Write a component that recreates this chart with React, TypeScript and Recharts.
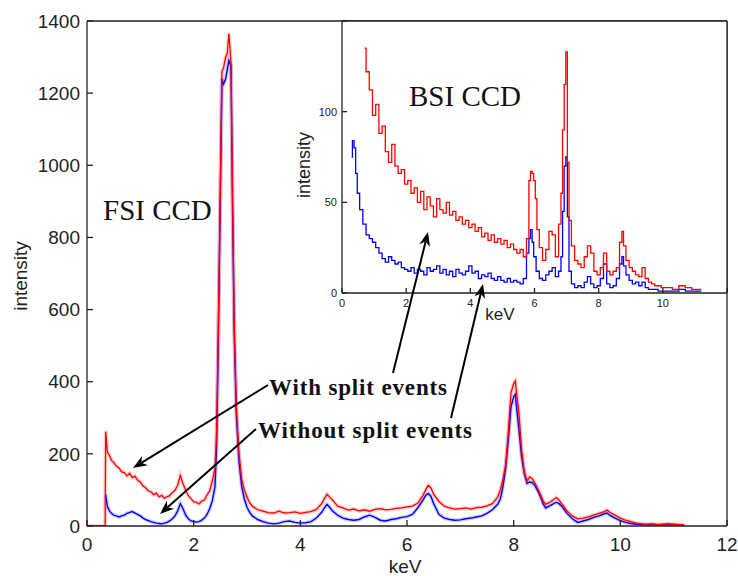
import { CartesianGrid, Line, LineChart, XAxis, YAxis } from "recharts";

// FSI CCD spectrum (main plot), [keV, intensity]
const fsiRed: [number, number][] = [
  [0, 0], [0.34, 0], [0.35, 262], [0.38, 205], [0.42, 196], [0.46, 182], [0.5, 176], [0.55, 166],
  [0.6, 161], [0.65, 150], [0.7, 148], [0.75, 139], [0.8, 146], [0.85, 134], [0.9, 138], [0.95, 127],
  [1.0, 122], [1.05, 111], [1.1, 106], [1.15, 97], [1.2, 95], [1.25, 87], [1.3, 91], [1.35, 81],
  [1.4, 85], [1.45, 77], [1.5, 81], [1.55, 84], [1.6, 93], [1.65, 99], [1.7, 113], [1.75, 140],
  [1.8, 117], [1.85, 99], [1.9, 84], [1.95, 76], [2.0, 67], [2.05, 66], [2.1, 61], [2.15, 69],
  [2.2, 72], [2.25, 86], [2.3, 97], [2.35, 126], [2.4, 160], [2.43, 260], [2.46, 520], [2.5, 930],
  [2.53, 1260], [2.56, 1270], [2.6, 1300], [2.63, 1310], [2.66, 1365], [2.7, 1285], [2.73, 900],
  [2.76, 560], [2.8, 330], [2.85, 200], [2.9, 130], [2.95, 100], [3.0, 80], [3.05, 64], [3.1, 55],
  [3.2, 45], [3.3, 41], [3.4, 37], [3.5, 36], [3.6, 41], [3.7, 36], [3.8, 37], [3.9, 39], [4.0, 35],
  [4.1, 38], [4.2, 40], [4.3, 46], [4.4, 62], [4.45, 76], [4.5, 88], [4.55, 80], [4.6, 73], [4.7, 55],
  [4.8, 50], [4.9, 44], [5.0, 47], [5.1, 42], [5.2, 45], [5.3, 41], [5.4, 46], [5.5, 48], [5.6, 45],
  [5.7, 46], [5.8, 49], [5.9, 50], [6.0, 53], [6.1, 55], [6.2, 63], [6.3, 85], [6.35, 100], [6.4, 113],
  [6.45, 105], [6.5, 88], [6.6, 68], [6.7, 55], [6.8, 50], [6.9, 47], [7.0, 48], [7.1, 50], [7.2, 47],
  [7.3, 51], [7.4, 52], [7.5, 56], [7.6, 62], [7.7, 80], [7.75, 100], [7.8, 130], [7.85, 170],
  [7.9, 260], [7.95, 370], [8.0, 395], [8.03, 402], [8.06, 360], [8.1, 310], [8.15, 210], [8.2, 150],
  [8.25, 125], [8.3, 136], [8.35, 131], [8.4, 118], [8.45, 104], [8.5, 88], [8.55, 70], [8.6, 60],
  [8.7, 68], [8.8, 79], [8.85, 72], [8.9, 62], [8.95, 52], [9.0, 42], [9.1, 28], [9.2, 20], [9.3, 22],
  [9.4, 25], [9.5, 30], [9.6, 35], [9.7, 40], [9.75, 44], [9.8, 38], [9.9, 30], [10.0, 22], [10.1, 16],
  [10.2, 12], [10.3, 8], [10.4, 6], [10.5, 5], [10.6, 6], [10.7, 4], [10.8, 5], [10.9, 6], [11.0, 5],
  [11.1, 4], [11.2, 3],
];

const fsiBlue: [number, number][] = [
  [0.35, 88], [0.38, 55], [0.42, 42], [0.46, 35], [0.5, 30], [0.55, 28], [0.6, 25], [0.65, 28],
  [0.7, 30], [0.75, 35], [0.8, 38], [0.85, 40], [0.9, 36], [0.95, 32], [1.0, 28], [1.05, 22],
  [1.1, 18], [1.15, 15], [1.2, 12], [1.25, 10], [1.3, 8], [1.35, 7], [1.4, 6], [1.45, 8], [1.5, 10],
  [1.55, 14], [1.6, 20], [1.65, 28], [1.7, 42], [1.75, 62], [1.8, 48], [1.85, 30], [1.9, 20],
  [1.95, 14], [2.0, 12], [2.05, 11], [2.1, 12], [2.15, 16], [2.2, 22], [2.25, 32], [2.3, 48],
  [2.35, 70], [2.4, 110], [2.43, 220], [2.46, 500], [2.5, 920], [2.53, 1240], [2.56, 1225],
  [2.6, 1240], [2.63, 1265], [2.66, 1290], [2.7, 1275], [2.73, 880], [2.76, 540], [2.8, 310],
  [2.85, 180], [2.9, 110], [2.95, 75], [3.0, 52], [3.05, 38], [3.1, 28], [3.2, 18], [3.3, 12],
  [3.4, 8], [3.5, 6], [3.6, 8], [3.7, 12], [3.8, 14], [3.9, 10], [4.0, 8], [4.1, 9], [4.2, 12],
  [4.3, 22], [4.4, 38], [4.45, 50], [4.5, 60], [4.55, 52], [4.6, 42], [4.7, 30], [4.8, 22], [4.9, 18],
  [5.0, 16], [5.1, 18], [5.2, 25], [5.3, 30], [5.4, 24], [5.5, 16], [5.6, 14], [5.7, 18], [5.8, 20],
  [5.9, 24], [6.0, 26], [6.1, 32], [6.2, 50], [6.3, 72], [6.35, 85], [6.4, 90], [6.45, 82], [6.5, 62],
  [6.6, 32], [6.7, 22], [6.8, 18], [6.9, 16], [7.0, 17], [7.1, 20], [7.2, 22], [7.3, 25], [7.4, 28],
  [7.5, 35], [7.6, 45], [7.7, 60], [7.75, 75], [7.8, 110], [7.85, 160], [7.9, 240], [7.95, 330],
  [8.0, 358], [8.03, 365], [8.06, 320], [8.1, 265], [8.15, 190], [8.2, 145], [8.25, 118], [8.3, 122],
  [8.35, 120], [8.4, 112], [8.45, 98], [8.5, 82], [8.55, 62], [8.6, 50], [8.7, 58], [8.8, 66],
  [8.85, 62], [8.9, 55], [8.95, 45], [9.0, 35], [9.1, 20], [9.2, 10], [9.3, 14], [9.4, 18], [9.5, 24],
  [9.6, 28], [9.7, 34], [9.75, 36], [9.8, 30], [9.9, 22], [10.0, 15], [10.1, 10], [10.2, 7], [10.3, 5],
  [10.4, 4], [10.5, 3], [10.6, 4], [10.7, 3], [10.8, 3], [10.9, 4], [11.0, 3], [11.1, 2], [11.2, 2],
];

// BSI CCD spectrum (inset)
const bsiRed: [number, number][] = [
  [0.7, 135], [0.8, 122], [0.9, 112], [1.0, 98], [1.1, 104], [1.2, 88], [1.3, 92], [1.4, 78],
  [1.5, 72], [1.6, 82], [1.7, 70], [1.8, 66], [1.9, 68], [2.0, 60], [2.1, 62], [2.2, 55], [2.3, 58],
  [2.4, 50], [2.5, 56], [2.6, 46], [2.7, 53], [2.8, 48], [2.9, 42], [3.0, 52], [3.1, 46], [3.2, 44],
  [3.3, 50], [3.4, 43], [3.5, 45], [3.6, 40], [3.7, 42], [3.8, 38], [3.9, 40], [4.0, 36], [4.1, 38],
  [4.2, 34], [4.3, 36], [4.4, 31], [4.5, 33], [4.6, 29], [4.7, 32], [4.8, 28], [4.9, 30], [5.0, 27],
  [5.1, 29], [5.2, 25], [5.3, 27], [5.4, 24], [5.5, 22], [5.6, 24], [5.7, 20], [5.8, 30], [5.85, 62],
  [5.9, 67], [5.95, 66], [6.0, 62], [6.05, 52], [6.1, 35], [6.2, 25], [6.3, 18], [6.4, 24], [6.5, 34],
  [6.6, 32], [6.7, 20], [6.8, 38], [6.85, 55], [6.9, 90], [6.95, 115], [7.0, 133], [7.05, 72],
  [7.1, 40], [7.2, 26], [7.3, 18], [7.4, 16], [7.5, 14], [7.6, 20], [7.7, 26], [7.8, 22], [7.9, 12],
  [8.0, 10], [8.1, 14], [8.2, 22], [8.3, 12], [8.4, 10], [8.5, 12], [8.6, 14], [8.7, 28], [8.75, 34],
  [8.8, 26], [8.9, 18], [9.0, 14], [9.1, 12], [9.2, 10], [9.3, 9], [9.4, 14], [9.5, 8], [9.6, 6],
  [9.7, 5], [9.8, 4], [9.9, 4], [10.0, 3], [10.2, 3], [10.4, 2], [10.6, 4], [10.8, 3], [11.0, 2],
  [11.2, 2],
];

const bsiBlue: [number, number][] = [
  [0.3, 75], [0.35, 84], [0.4, 80], [0.45, 66], [0.5, 55], [0.6, 46], [0.7, 38], [0.8, 32], [0.9, 30],
  [1.0, 28], [1.1, 25], [1.2, 22], [1.3, 19], [1.4, 17], [1.5, 20], [1.6, 18], [1.7, 16], [1.8, 17],
  [1.9, 14], [2.0, 13], [2.1, 12], [2.2, 14], [2.3, 11], [2.4, 13], [2.5, 12], [2.6, 10], [2.7, 14],
  [2.8, 12], [2.9, 13], [3.0, 15], [3.1, 11], [3.2, 13], [3.3, 10], [3.4, 12], [3.5, 9], [3.6, 13],
  [3.7, 11], [3.8, 10], [3.9, 12], [4.0, 15], [4.1, 11], [4.2, 12], [4.3, 8], [4.4, 10], [4.5, 9],
  [4.6, 11], [4.7, 8], [4.8, 7], [4.9, 9], [5.0, 7], [5.1, 6], [5.2, 8], [5.3, 6], [5.4, 7], [5.5, 6],
  [5.6, 5], [5.7, 8], [5.8, 22], [5.85, 30], [5.9, 35], [5.95, 28], [6.0, 20], [6.1, 12], [6.2, 8],
  [6.3, 7], [6.4, 10], [6.5, 12], [6.6, 14], [6.7, 9], [6.8, 12], [6.85, 20], [6.9, 45], [6.95, 70],
  [7.0, 75], [7.05, 42], [7.1, 12], [7.2, 5], [7.3, 3], [7.4, 4], [7.5, 3], [7.6, 6], [7.7, 9],
  [7.8, 5], [7.9, 3], [8.0, 4], [8.1, 8], [8.2, 16], [8.3, 5], [8.4, 3], [8.5, 4], [8.6, 8], [8.7, 16],
  [8.75, 20], [8.8, 15], [8.9, 10], [9.0, 7], [9.1, 5], [9.2, 6], [9.3, 4], [9.4, 6], [9.5, 3],
  [9.6, 2], [9.7, 2], [9.8, 2], [9.9, 1], [10.0, 1], [10.2, 1], [10.4, 1], [10.6, 2], [10.8, 1],
  [11.0, 1], [11.2, 1],
];

const mainXTicks = [0, 2, 4, 6, 8, 10, 12];
const mainYTicks = [0, 200, 400, 600, 800, 1000, 1200, 1400];
const insetXTicks = [0, 2, 4, 6, 8, 10, 12];
const insetYTicks = [0, 50, 100, 150];

const RED = "#ff0000";
const BLUE = "#0000ff";
const AX = "#222";
const SANS = "'Liberation Sans', Arial, sans-serif";
const SERIF = "'Liberation Serif', 'Times New Roman', serif";

const rows = (pts: [number, number][]) => pts.map(([kev, v]) => ({ kev, v }));

function Arrow({ x1, y1, x2, y2 }: { x1: number; y1: number; x2: number; y2: number }) {
  const a = Math.atan2(y2 - y1, x2 - x1);
  const L = 14;
  const W = 5.5;
  const bx = x2 - L * Math.cos(a);
  const by = y2 - L * Math.sin(a);
  const nx = x2 - L * 0.7 * Math.cos(a);
  const ny = y2 - L * 0.7 * Math.sin(a);
  const px = -Math.sin(a) * W;
  const py = Math.cos(a) * W;
  return (
    <g>
      <line x1={x1} y1={y1} x2={nx} y2={ny} stroke="#000" strokeWidth={2} />
      <polygon
        points={`${x2},${y2} ${bx + px},${by + py} ${nx},${ny} ${bx - px},${by - py}`}
        fill="#000"
      />
    </g>
  );
}

const axisLine = { stroke: AX, strokeWidth: 1.3 };

export default function App() {
  const redRows = rows(fsiRed);
  const blueRows = rows(fsiBlue);
  const insetRed = rows(bsiRed);
  const insetBlue = rows(bsiBlue);

  return (
    <div
      style={{
        position: "absolute",
        left: 0,
        top: 0,
        width: 738,
        height: 576,
        background: "#fff",
        fontFamily: SANS,
        overflow: "hidden",
      }}
    >
      <div style={{ position: "absolute", left: 0, top: 0 }}>
        <LineChart width={738} height={576} margin={{ top: 0, right: 0, bottom: 0, left: 0 }}>
          <XAxis
            dataKey="kev"
            type="number"
            domain={[0, 12]}
            ticks={mainXTicks}
            interval={0}
            allowDataOverflow
            height={50}
            tickSize={-6}
            tickMargin={18}
            tick={{ fontSize: 19, fill: AX, fontFamily: SANS }}
            axisLine={axisLine}
            tickLine={axisLine}
          />
          <XAxis
            xAxisId="t"
            orientation="top"
            dataKey="kev"
            type="number"
            domain={[0, 12]}
            ticks={mainXTicks}
            interval={0}
            allowDataOverflow
            height={21}
            tickSize={-6}
            tick={false}
            axisLine={axisLine}
            tickLine={axisLine}
          />
          <YAxis
            type="number"
            domain={[0, 1400]}
            ticks={mainYTicks}
            interval={0}
            allowDataOverflow
            width={87}
            tickSize={-6}
            tickMargin={13}
            tick={{ fontSize: 19, fill: AX, fontFamily: SANS }}
            axisLine={axisLine}
            tickLine={axisLine}
          />
          <YAxis
            yAxisId="r"
            orientation="right"
            type="number"
            domain={[0, 1400]}
            ticks={mainYTicks}
            interval={0}
            allowDataOverflow
            width={11}
            tickSize={-6}
            tick={false}
            axisLine={axisLine}
            tickLine={axisLine}
          />
          <Line
            data={blueRows}
            dataKey="v"
            xAxisId="t"
            yAxisId="r"
            type="linear"
            stroke={BLUE}
            strokeOpacity={0.18}
            strokeWidth={4}
            dot={false}
            isAnimationActive={false}
          />
          <Line
            data={blueRows}
            dataKey="v"
            type="linear"
            stroke={BLUE}
            strokeWidth={1.4}
            dot={false}
            isAnimationActive={false}
          />
          <Line
            data={redRows}
            dataKey="v"
            xAxisId="t"
            yAxisId="r"
            type="linear"
            stroke={RED}
            strokeOpacity={0.18}
            strokeWidth={4}
            dot={false}
            isAnimationActive={false}
          />
          <Line
            data={redRows}
            dataKey="v"
            type="linear"
            stroke={RED}
            strokeWidth={1.3}
            dot={false}
            isAnimationActive={false}
          />
        </LineChart>
      </div>

      <div style={{ position: "absolute", left: 302, top: 0 }}>
        <LineChart width={436} height={330} margin={{ top: 0, right: 0, bottom: 0, left: 0 }}>
          <CartesianGrid fill="#fff" fillOpacity={1} horizontal={false} vertical={false} />
          <XAxis
            dataKey="kev"
            type="number"
            domain={[0, 12]}
            ticks={insetXTicks}
            interval={0}
            allowDataOverflow
            height={37}
            tickSize={-5}
            tickMargin={11}
            tickFormatter={(v: number) => (v === 12 ? "" : String(v))}
            tick={{ fontSize: 11, fill: AX, fontFamily: SANS }}
            axisLine={axisLine}
            tickLine={axisLine}
          />
          <XAxis
            xAxisId="t"
            orientation="top"
            dataKey="kev"
            type="number"
            domain={[0, 12]}
            ticks={insetXTicks}
            interval={0}
            allowDataOverflow
            height={21}
            tickSize={-5}
            tick={false}
            axisLine={axisLine}
            tickLine={axisLine}
          />
          <YAxis
            type="number"
            domain={[0, 150]}
            ticks={insetYTicks}
            interval={0}
            allowDataOverflow
            width={40}
            tickSize={-5}
            tickMargin={10}
            tickFormatter={(v: number) => (v === 150 ? "" : String(v))}
            tick={{ fontSize: 11, fill: AX, fontFamily: SANS }}
            axisLine={axisLine}
            tickLine={axisLine}
          />
          <YAxis
            yAxisId="r"
            orientation="right"
            type="number"
            domain={[0, 150]}
            ticks={insetYTicks}
            interval={0}
            allowDataOverflow
            width={11}
            tickSize={-5}
            tick={false}
            axisLine={axisLine}
            tickLine={axisLine}
          />
          <Line
            data={insetBlue}
            dataKey="v"
            xAxisId="t"
            yAxisId="r"
            type="step"
            stroke={BLUE}
            strokeWidth={1.3}
            dot={false}
            isAnimationActive={false}
          />
          <Line
            data={insetRed}
            dataKey="v"
            type="step"
            stroke={RED}
            strokeWidth={1.3}
            dot={false}
            isAnimationActive={false}
          />
        </LineChart>
      </div>

      <svg
        width={738}
        height={576}
        style={{ position: "absolute", left: 0, top: 0, pointerEvents: "none" }}
      >
        <text x={20} y={276} transform="rotate(-90 20 276)" textAnchor="middle" dominantBaseline="central" fontSize={19} fill={AX} fontFamily={SANS}>
          intensity
        </text>
        <text x={405} y={573} textAnchor="middle" fontSize={19} fill={AX} fontFamily={SANS}>
          keV
        </text>
        <text x={304} y={165} transform="rotate(-90 304 165)" textAnchor="middle" dominantBaseline="central" fontSize={18} fill={AX} fontFamily={SANS}>
          intensity
        </text>
        <text x={500} y={320} textAnchor="middle" fontSize={17} fill={AX} fontFamily={SANS}>
          keV
        </text>
        <text x={103} y={220} fontSize={29} fill="#111" fontFamily={SERIF}>
          FSI CCD
        </text>
        <text x={409} y={106} fontSize={29} fill="#111" fontFamily={SERIF}>
          BSI CCD
        </text>
        <text x={269} y={395} fontSize={23} fontWeight="bold" fill="#111" fontFamily={SERIF} textLength={178} lengthAdjust="spacing">
          With split events
        </text>
        <text x={258} y={438} fontSize={23} fontWeight="bold" fill="#111" fontFamily={SERIF} textLength={214} lengthAdjust="spacing">
          Without split events
        </text>
        <Arrow x1={268} y1={385} x2={133} y2={468} />
        <Arrow x1={256} y1={429} x2={160} y2={514} />
        <Arrow x1={393} y1={373} x2={428} y2={232} />
        <Arrow x1={451} y1={418} x2={483} y2={284} />
      </svg>
    </div>
  );
}
